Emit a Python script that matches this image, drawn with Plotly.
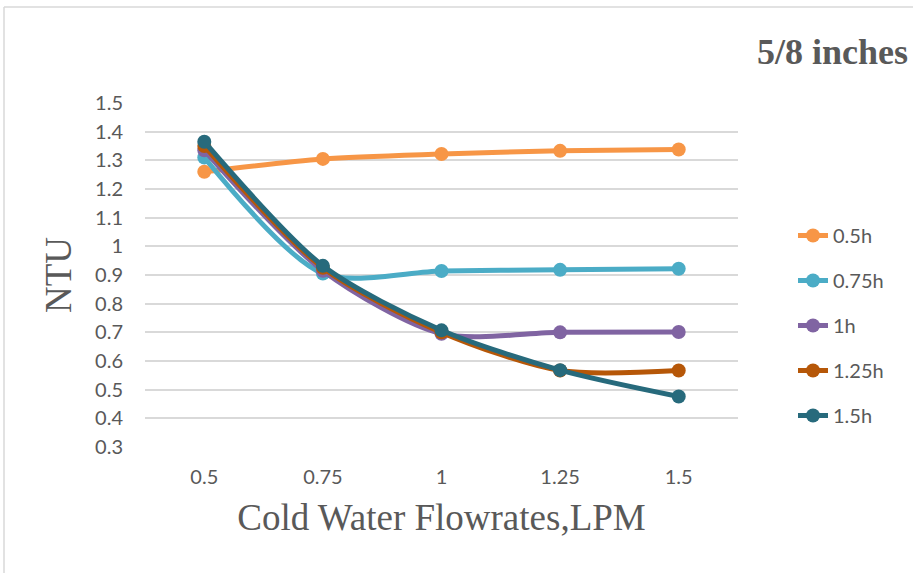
import plotly.graph_objects as go

categories = ["0.5", "0.75", "1", "1.25", "1.5"]
series_names = ["0.5h", "0.75h", "1h", "1.25h", "1.5h"]
s_05h = [1.26, 1.305, 1.322, 1.333, 1.338]
s_075h = [1.31, 0.905, 0.914, 0.918, 0.922]
s_1h = [1.335, 0.915, 0.695, 0.700, 0.701]
s_125h = [1.35, 0.925, 0.700, 0.567, 0.567]
s_15h = [1.365, 0.932, 0.707, 0.568, 0.476]
series_values = [s_05h, s_075h, s_1h, s_125h, s_15h]
colors = ["#F79646", "#4BACC6", "#8064A2", "#B65708", "#276A7C"]

W, H = 913, 573
L, R, T, B = 145, 913 - 738, 103, 573 - 447
pw, ph = W - L - R, H - T - B

def px_x(x):
    return (x - L) / pw

def px_y(y):
    return (H - B - y) / ph

fig = go.Figure()
for name, vals, c in zip(series_names, series_values, colors):
    fig.add_trace(go.Scatter(
        x=categories, y=vals, name=name, legendgroup=name, mode="lines+markers",
        line=dict(color=c, width=5, shape="spline", smoothing=0.8),
        marker=dict(color=c, size=14),
    ))

tick_font = dict(family="Lato, Open Sans, sans-serif", size=20, color="#595959")
serif = "Liberation Serif, Times New Roman, serif"

fig.update_layout(
    width=W, height=H,
    margin=dict(l=L, r=R, t=T, b=B),
    paper_bgcolor="white", plot_bgcolor="white",
    font=dict(family="Lato, Open Sans, sans-serif", color="#595959", size=20),
    xaxis=dict(
        type="category", range=[-0.5, 4.5], showgrid=False, zeroline=False,
        showline=False, ticks="outside", ticklen=12, tickcolor="rgba(0,0,0,0)",
        tickfont=tick_font,
        title=dict(text="Cold Water Flowrates,LPM", standoff=17,
                   font=dict(family=serif, size=37, color="#595959")),
    ),
    yaxis=dict(
        range=[0.3, 1.5], dtick=0.1, tick0=0.3, showgrid=True, gridcolor="#D9D9D9", gridwidth=1.5,
        zeroline=False, showline=False, ticks="outside", ticklen=17, tickcolor="rgba(0,0,0,0)",
        tickformat="~r", tickfont=tick_font,
        title=dict(text="NTU", standoff=12,
                   font=dict(family=serif, size=37, color="#595959")),
    ),
    legend=dict(
        x=px_x(793), y=px_y(216), xanchor="left", yanchor="top",
        font=dict(size=20, color="#595959"), tracegroupgap=16,
        bgcolor="rgba(0,0,0,0)",
    ),
    showlegend=True,
)

fig.add_annotation(
    text="<b>5/8 inches</b>", xref="paper", yref="paper",
    x=px_x(910), y=px_y(52), xanchor="right", yanchor="middle", showarrow=False,
    font=dict(family=serif, size=36, color="#595959"),
)

# chart border lines
fig.add_shape(type="line", xref="paper", yref="paper",
              x0=px_x(4), x1=px_x(913), y0=px_y(7), y1=px_y(7),
              line=dict(color="#D9D9D9", width=1.5))
fig.add_shape(type="line", xref="paper", yref="paper",
              x0=px_x(4), x1=px_x(4), y0=px_y(7), y1=px_y(573),
              line=dict(color="#D9D9D9", width=1.5))

fig.write_html("out.html")
